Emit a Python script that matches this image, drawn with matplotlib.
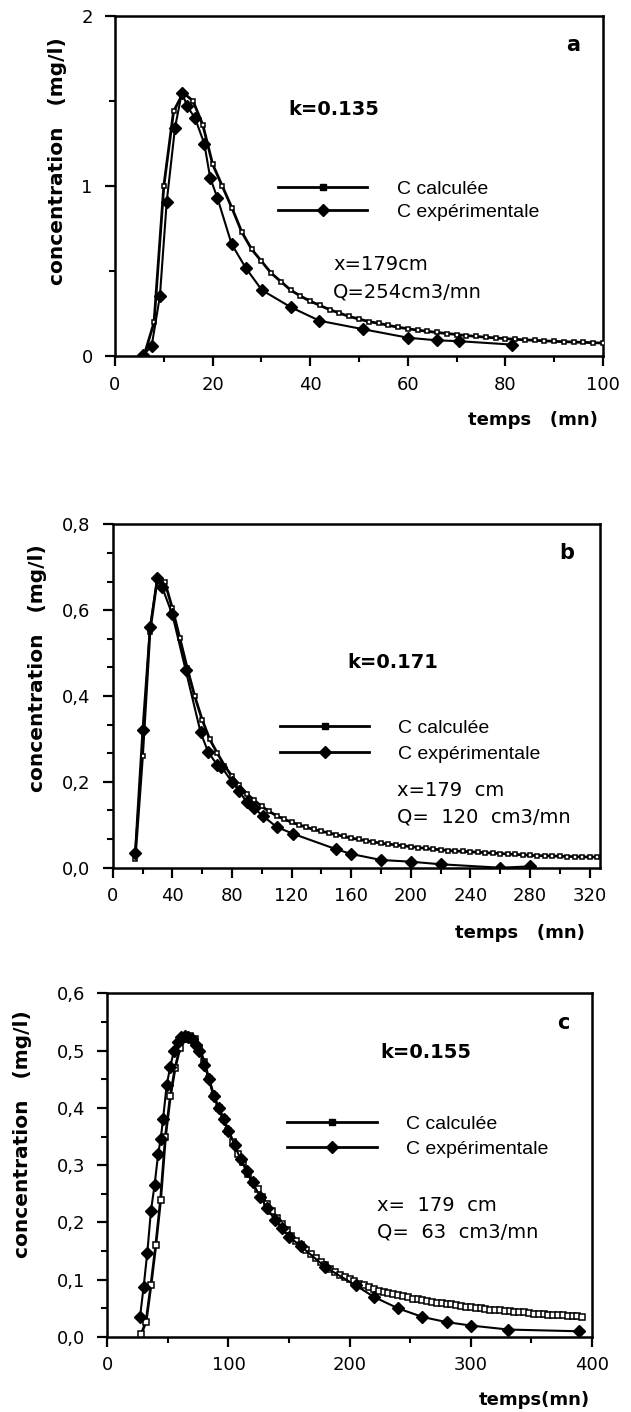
import matplotlib
matplotlib.use("Agg")
import matplotlib.pyplot as plt
from matplotlib.ticker import MultipleLocator, FixedLocator, FixedFormatter
from matplotlib.lines import Line2D

# ---------------- data ----------------
# Panel a  (k=0.135, x=179 cm, Q=254 cm3/mn)
a_calc_t = [6, 8, 10, 12, 14, 16, 18, 20, 22, 24, 26, 28, 30, 32, 34, 36, 38, 40,
            42, 44, 46, 48, 50, 52, 54, 56, 58, 60, 62, 64, 66, 68, 70, 72, 74, 76,
            78, 80, 82, 84, 86, 88, 90, 92, 94, 96, 98, 100]
a_calc_c = [0.01, 0.2, 1.0, 1.44, 1.55, 1.50, 1.36, 1.13, 1.0, 0.87, 0.73, 0.63,
            0.56, 0.49, 0.44, 0.39, 0.355, 0.325, 0.30, 0.275, 0.255, 0.235, 0.22,
            0.205, 0.195, 0.183, 0.172, 0.163, 0.155, 0.148, 0.141, 0.135, 0.129,
            0.123, 0.118, 0.113, 0.109, 0.105, 0.101, 0.098, 0.095, 0.092, 0.089,
            0.087, 0.085, 0.083, 0.081, 0.079]
a_exp_t = [5.8, 7.5, 9.2, 10.6, 12.3, 13.7, 14.8, 16.4, 18.3, 19.5, 21.0, 23.9,
           26.8, 30.1, 36.0, 41.9, 50.9, 60.1, 66.0, 70.5, 81.3]
a_exp_c = [0.01, 0.06, 0.355, 0.91, 1.345, 1.55, 1.47, 1.40, 1.25, 1.05, 0.93,
           0.66, 0.52, 0.39, 0.29, 0.21, 0.16, 0.11, 0.095, 0.09, 0.07]

# Panel b  (k=0.171, x=179 cm, Q=120 cm3/mn)
b_calc_t = [15, 20, 25, 30, 35, 40, 45, 50, 55, 60, 65, 70, 75, 80, 85, 90, 95,
            100, 105, 110, 115, 120, 125, 130, 135, 140, 145, 150, 155, 160, 165,
            170, 175, 180, 185, 190, 195, 200, 205, 210, 215, 220, 225, 230, 235,
            240, 245, 250, 255, 260, 265, 270, 275, 280, 285, 290, 295, 300, 305,
            310, 315, 320, 325]
b_calc_c = [0.02, 0.26, 0.55, 0.675, 0.665, 0.605, 0.535, 0.465, 0.40, 0.345, 0.30,
            0.268, 0.238, 0.213, 0.192, 0.172, 0.157, 0.143, 0.131, 0.121, 0.113,
            0.106, 0.100, 0.094, 0.089, 0.085, 0.081, 0.077, 0.073, 0.069, 0.066,
            0.063, 0.060, 0.057, 0.055, 0.053, 0.051, 0.049, 0.047, 0.045, 0.043,
            0.042, 0.040, 0.039, 0.038, 0.037, 0.036, 0.035, 0.034, 0.033, 0.032,
            0.031, 0.030, 0.029, 0.028, 0.028, 0.027, 0.027, 0.026, 0.026, 0.025,
            0.025, 0.025]
b_exp_t = [15, 20, 25, 30, 33, 40, 49, 59, 64, 70, 73, 80, 85, 90, 95, 101, 110,
           121, 150, 160, 180, 200, 220, 260, 280]
b_exp_c = [0.035, 0.32, 0.56, 0.675, 0.655, 0.59, 0.46, 0.315, 0.27, 0.24, 0.235,
           0.20, 0.178, 0.152, 0.138, 0.12, 0.095, 0.079, 0.043, 0.032, 0.018,
           0.014, 0.008, 0.0, 0.003]

# Panel c  (k=0.155, x=179 cm, Q=63 cm3/mn)
c_calc_t = [28, 32, 36, 40, 44, 48, 52, 56, 60, 64, 68, 72, 76, 80, 84, 88, 92, 96,
            100, 104, 108, 112, 116, 120, 124, 128, 132, 136, 140, 144, 148, 152,
            156, 160, 164, 168, 172, 176, 180, 184, 188, 192, 196, 200, 204, 208,
            212, 216, 220, 224, 228, 232, 236, 240, 244, 248, 252, 256, 260, 264,
            268, 272, 276, 280, 284, 288, 292, 296, 300, 304, 308, 312, 316, 320,
            324, 328, 332, 336, 340, 344, 348, 352, 356, 360, 364, 368, 372, 376,
            380, 384, 388, 392]
c_calc_c = [0.005, 0.027, 0.09, 0.16, 0.24, 0.35, 0.42, 0.47, 0.505, 0.52, 0.525,
            0.52, 0.505, 0.48, 0.45, 0.42, 0.40, 0.38, 0.36, 0.34, 0.32, 0.305,
            0.285, 0.27, 0.258, 0.245, 0.232, 0.22, 0.208, 0.197, 0.187, 0.177,
            0.168, 0.16, 0.152, 0.145, 0.138, 0.131, 0.125, 0.119, 0.114, 0.109,
            0.105, 0.101, 0.097, 0.093, 0.09, 0.087, 0.084, 0.081, 0.079, 0.077,
            0.075, 0.073, 0.071, 0.069, 0.067, 0.066, 0.064, 0.063, 0.061, 0.060,
            0.059, 0.058, 0.057, 0.055, 0.054, 0.053, 0.052, 0.051, 0.050, 0.049,
            0.048, 0.047, 0.047, 0.046, 0.045, 0.044, 0.043, 0.043, 0.042, 0.041,
            0.041, 0.040, 0.039, 0.039, 0.038, 0.038, 0.037, 0.036, 0.036, 0.035]
c_exp_t = [27, 30, 33, 36, 39, 42, 44, 46, 49, 52, 55, 58, 61, 64, 67, 70, 73, 76,
           80, 84, 88, 92, 96, 100, 105, 110, 115, 120, 126, 132, 138, 144, 150,
           160, 180, 205, 220, 240, 260, 280, 300, 331, 389]
c_exp_c = [0.035, 0.088, 0.147, 0.22, 0.265, 0.32, 0.345, 0.38, 0.44, 0.472, 0.50,
           0.515, 0.524, 0.525, 0.524, 0.52, 0.51, 0.50, 0.475, 0.45, 0.42, 0.40,
           0.38, 0.36, 0.335, 0.31, 0.29, 0.27, 0.245, 0.225, 0.205, 0.19, 0.175,
           0.158, 0.122, 0.09, 0.07, 0.05, 0.035, 0.026, 0.02, 0.013, 0.01]

# tick values / labels
a_xticks = [0, 20, 40, 60, 80, 100]
a_yticks = [0, 1, 2]
a_yticklabels = ["0", "1", "2"]
b_xticks = [0, 40, 80, 120, 160, 200, 240, 280, 320]
b_yticks = [0.0, 0.2, 0.4, 0.6, 0.8]
b_yticklabels = ["0,0", "0,2", "0,4", "0,6", "0,8"]
c_xticks = [0, 100, 200, 300, 400]
c_yticks = [0.0, 0.1, 0.2, 0.3, 0.4, 0.5, 0.6]
c_yticklabels = ["0,0", "0,1", "0,2", "0,3", "0,4", "0,5", "0,6"]

series_labels = ["C calculée", "C expérimentale"]
ylabel_text = "concentration   (mg/l)"

# ---------------- figure ----------------
W, H = 631, 1412
fig = plt.figure(figsize=(W / 100, H / 100), dpi=100)


def px_axes(left, right, top, bottom):
    return fig.add_axes([left / W, 1 - bottom / H, (right - left) / W, (bottom - top) / H])


BOLD = dict(family="DejaVu Sans", fontweight="bold")
REG_INFO = dict(family="DejaVu Sans")


def style_axes(ax, xlim, ylim, xticks, xminor, yticks, yticklabels, yminor_locator):
    ax.set_xlim(*xlim)
    ax.set_ylim(*ylim)
    for s in ax.spines.values():
        s.set_linewidth(1.8)
    ax.xaxis.set_major_locator(FixedLocator(xticks))
    ax.xaxis.set_minor_locator(MultipleLocator(xminor))
    ax.yaxis.set_major_locator(FixedLocator(yticks))
    ax.yaxis.set_major_formatter(FixedFormatter(yticklabels))
    ax.yaxis.set_minor_locator(yminor_locator)
    ax.tick_params(which="major", direction="out", length=7, width=1.6,
                   labelsize=13, pad=7)
    ax.tick_params(which="minor", direction="out", length=4, width=1.5)
    ax.tick_params(axis="y", which="major", pad=9)
    for lab in ax.get_xticklabels() + ax.get_yticklabels():
        lab.set_family("DejaVu Sans")


def plot_series(ax, ct, cc, et, ec, ms_sq=3.4):
    ax.plot(ct, cc, color="black", lw=2.0, marker="s", ms=ms_sq, mfc="white",
            mec="black", mew=1.1, label=series_labels[0], zorder=3)
    ax.plot(et, ec, color="black", lw=1.5, marker="D", ms=5.8, mfc="black",
            mec="black", label=series_labels[1], zorder=4)


def add_legend(ax, x, y, spacing):
    h1 = Line2D([], [], color="black", lw=2.0, marker="s", ms=4, mfc="black",
                mec="black")
    h2 = Line2D([], [], color="black", lw=2.0, marker="D", ms=6.5, mfc="black",
                mec="black")
    leg = ax.legend([h1, h2], series_labels, loc="center left",
                    bbox_to_anchor=(x, y), frameon=False, borderpad=0,
                    borderaxespad=0, handlelength=4.6, handletextpad=1.5,
                    labelspacing=spacing, numpoints=1,
                    prop=dict(family="Liberation Sans", size=14))
    return leg


def add_labels(ax, letter, letter_xy, k_text, k_xy, info1, info2, info_x,
               info_y1, info_y2, xlabel, xlabel_xy, ylabel_xy):
    ax.text(*letter_xy, letter, transform=ax.transAxes, ha="center",
            va="center", fontsize=15, **BOLD)
    ax.text(*k_xy, k_text, transform=ax.transAxes, ha="left", va="center",
            fontsize=14, **BOLD)
    ax.text(info_x, info_y1, info1, transform=ax.transAxes, ha="left",
            va="center", fontsize=14, **REG_INFO)
    ax.text(info_x, info_y2, info2, transform=ax.transAxes, ha="left",
            va="center", fontsize=14, **REG_INFO)
    ax.set_xlabel(xlabel, fontsize=13, **BOLD)
    ax.xaxis.set_label_coords(*xlabel_xy)
    ax.xaxis.label.set_horizontalalignment("right")
    ax.xaxis.label.set_verticalalignment("center")
    ax.set_ylabel(ylabel_text, fontsize=14.5, **BOLD)
    ax.yaxis.set_label_coords(*ylabel_xy)
    ax.yaxis.label.set_verticalalignment("center")
    ax.yaxis.label.set_horizontalalignment("center")


# ---- panel a ----
ax1 = px_axes(115, 603, 16, 356.5)
plot_series(ax1, a_calc_t, a_calc_c, a_exp_t, a_exp_c)
style_axes(ax1, (0, 100), (0, 2), a_xticks, 10, a_yticks, a_yticklabels,
           MultipleLocator(0.5))
add_legend(ax1, 0.334, 0.458, 0.29)
add_labels(ax1, "a", (0.939, 0.915), "k=0.135", (0.355, 0.724),
           "x=179cm", "Q=254cm3/mn", 0.447, 0.269, 0.189,
           "temps   (mn)", (0.99, -0.186), (-0.117, 0.574))

# ---- panel b ----
ax2 = px_axes(112.7, 600, 524.3, 867.7)
plot_series(ax2, b_calc_t, b_calc_c, b_exp_t, b_exp_c)
style_axes(ax2, (0, 327), (0, 0.8), b_xticks, 20, b_yticks, b_yticklabels,
           MultipleLocator(0.2 / 3))
add_legend(ax2, 0.343, 0.369, 0.45)
add_labels(ax2, "b", (0.932, 0.916), "k=0.171", (0.481, 0.598),
           "x=179  cm", "Q=  120  cm3/mn", 0.583, 0.226, 0.148,
           "temps   (mn)", (0.969, -0.19), (-0.155, 0.582))

# ---- panel c ----
ax3 = px_axes(107.3, 592, 993.3, 1337)
plot_series(ax3, c_calc_t, c_calc_c, c_exp_t, c_exp_c, ms_sq=3.8)
style_axes(ax3, (0, 400), (0, 0.6), c_xticks, 50, c_yticks, c_yticklabels,
           MultipleLocator(0.05))
add_legend(ax3, 0.371, 0.583, 0.4)
add_labels(ax3, "c", (0.94, 0.914), "k=0.155", (0.563, 0.829),
           "x=  179  cm", "Q=  63  cm3/mn", 0.556, 0.384, 0.305,
           "temps(mn)", (0.996, -0.183), (-0.174, 0.59))

fig.savefig("out.png", dpi=100)
